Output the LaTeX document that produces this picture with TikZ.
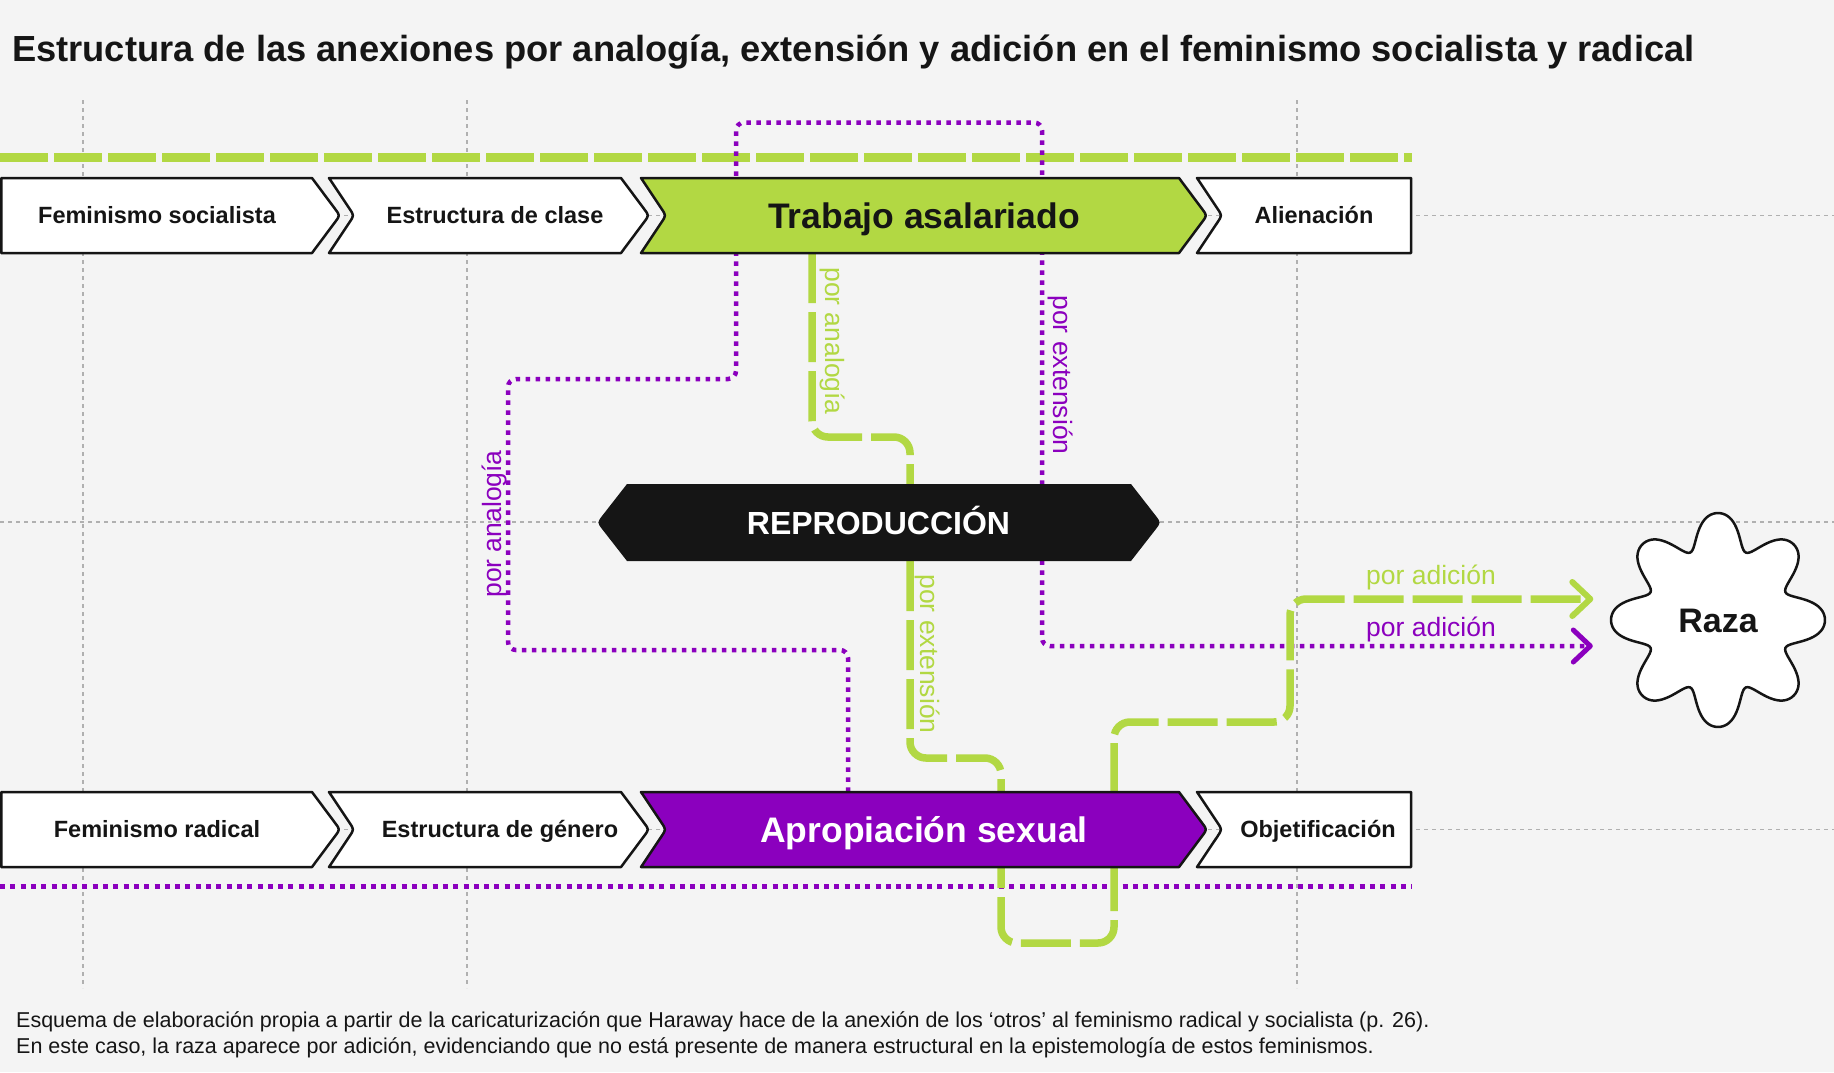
\documentclass[tikz,border=0pt]{standalone}
\usepackage{fontspec}
\setmainfont{Liberation Sans}
\usetikzlibrary{calc}
\definecolor{bgc}{HTML}{F4F4F4}
\definecolor{myg}{HTML}{B2D843}
\definecolor{myp}{HTML}{8B00BE}
\definecolor{ink}{HTML}{151515}
\definecolor{gridc}{HTML}{B0B0B0}
\newcommand{\mychevmid}[4]{\draw[#4] (#1,{#3-37.5}) -- (#2,{#3-37.5}) -- ({#2+23.2},{#3-6.4}) .. controls ({#2+28},#3) .. ({#2+23.2},{#3+6.4}) -- (#2,{#3+37.5}) -- (#1,{#3+37.5}) -- ({#1+20.6},{#3+6.7}) .. controls ({#1+25},#3) .. ({#1+20.6},{#3-6.7}) -- cycle;}
\newcommand{\mychevfirst}[3]{\draw[#3] (1.25,{#2-37.5}) -- (#1,{#2-37.5}) -- ({#1+23.2},{#2-6.4}) .. controls ({#1+28},#2) .. ({#1+23.2},{#2+6.4}) -- (#1,{#2+37.5}) -- (1.25,{#2+37.5}) -- cycle;}
\newcommand{\mychevlast}[3]{\draw[#3] (#1,{#2-37.5}) -- (1411,{#2-37.5}) -- (1411,{#2+37.5}) -- (#1,{#2+37.5}) -- ({#1+20.6},{#2+6.7}) .. controls ({#1+25},#2) .. ({#1+20.6},{#2-6.7}) -- cycle;}
\begin{document}
\begin{tikzpicture}[x=1pt,y=-1pt,
  gridline/.style={draw=gridc, line width=1.5pt, dash pattern=on 4pt off 4pt},
  pdot/.style={draw=myp, line width=4.5pt, dash pattern=on 4.5pt off 5.5pt},
  gdash/.style={draw=myg, line width=7.5pt, dash pattern=on 50pt off 9pt},
  boxw/.style={draw=ink, line width=2.5pt, fill=white, line join=round},
  boxg/.style={draw=ink, line width=2.5pt, fill=myg, line join=round},
  boxp/.style={draw=ink, line width=2.5pt, fill=myp, line join=round},
  anchorbox/.style={inner sep=0pt, minimum height=75pt, draw=none},
  lab/.style={font=\fontsize{23.5}{28}\selectfont\bfseries, text=ink, anchor=base, inner sep=0pt},
  big/.style={font=\fontsize{35.5}{40}\selectfont\bfseries, anchor=base, inner sep=0pt},
  glab/.style={font=\fontsize{26.5}{30}\selectfont, text=myg, inner sep=0pt},
  plab/.style={font=\fontsize{26.5}{30}\selectfont, text=myp, inner sep=0pt},
  gtip/.style={draw=myg, line width=6pt, line cap=round, line join=round},
  ptip/.style={draw=myp, line width=5pt, line cap=round, line join=round}]
\fill[bgc] (0,0) rectangle (1834,1072);
\useasboundingbox (0,0) rectangle (1834,1072);

% grid
\foreach \xx in {83,467,1297} \draw[gridline] (\xx,100) -- (\xx,988);
\foreach \yy in {215.5,522,829.5} \draw[gridline] (0,\yy) -- (1834,\yy);

% anchor boxes
\node[anchorbox, minimum width=312pt] (bFsoc) at (156,215.5) {};
\node[anchorbox, minimum width=292pt] (bClase) at (487,215.5) {};
\node[anchorbox, minimum width=538pt] (bTrab) at (910,215.5) {};
\node[anchorbox, minimum width=214pt] (bAlien) at (1304,215.5) {};
\node[anchorbox, minimum width=312pt] (bFrad) at (156,829.5) {};
\node[anchorbox, minimum width=292pt] (bGen) at (487,829.5) {};
\node[anchorbox, minimum width=538pt] (bAprop) at (910,829.5) {};
\node[anchorbox, minimum width=214pt] (bObj) at (1304,829.5) {};
\node[inner sep=0pt, minimum width=565pt, minimum height=77pt] (bRepro) at (878.5,522.5) {};
\node[circle, inner sep=0pt, minimum size=217pt] (raza) at (1718,620) {};

% long lines
\draw[draw=myg, line width=9pt, dash pattern=on 48pt off 6pt] (0,157.5) -- (1412,157.5);
\draw[pdot, line width=5pt, dash pattern=on 5pt off 5.3pt] (0,886) -- (1412,886);

% connectors
\coordinate (arrP) at ($(raza.west)+(-19,26)$);
\coordinate (arrG) at ($(raza.west)+(-19,-21)$);
\draw[pdot, rounded corners=8pt] (848,0 |- bAprop.north) -- (848,650) -- (508,650) -- (508,379) -- (736,379) -- (736,122.5) -- (1042,122.5) -- (1042,646) -- (arrP);
\draw[gdash, rounded corners=16pt] (812,0 |- bTrab.south) -- (812,437) -- (910,437) -- (910,0 |- bRepro.north);
\draw[gdash, rounded corners=16pt] (910,0 |- bRepro.south) -- (910,758) -- (1001,758) -- (1001,943) -- (1114,943) -- (1114,722) -- (1290,722) -- (1290,599) -- (arrG);
\draw[gtip] ($(arrG)+(-18,-17)$) -- (arrG) -- ($(arrG)+(-18,17)$);
\draw[ptip] ($(arrP)+(-17,-16)$) -- (arrP) -- ($(arrP)+(-17,16)$);

% boxes
\mychevfirst{312}{215.5}{boxw}
\mychevmid{329}{621}{215.5}{boxw}
\mychevmid{641}{1179}{215.5}{boxg}
\mychevlast{1197}{215.5}{boxw}
\mychevfirst{312}{829.5}{boxw}
\mychevmid{329}{621}{829.5}{boxw}
\mychevmid{641}{1179}{829.5}{boxp}
\mychevlast{1197}{829.5}{boxw}

\fill[ink] (627,484) -- (1131,484) -- (1155.5,515.4) .. controls (1161,522.5) .. (1155.5,529.6) -- (1131,561) -- (627,561) -- (602.5,529.6) .. controls (597,522.5) .. (602.5,515.4) -- cycle;

\draw[ink, line width=2.5pt, fill=white] plot[domain=0:360, samples=289] ({1718+(92+17*(cos(8*\x)-0.12*cos(16*\x)))*cos(\x)},{620+(92+17*(cos(8*\x)-0.12*cos(16*\x)))*sin(\x)}) -- cycle;

% texts
\node[lab] (tFsoc) at (157,223.9) {Feminismo socialista};
\node[lab] (tClase) at (495,223.9) {Estructura de clase};
\node[big, text=ink] (tTrab) at (924,228.2) {Trabajo asalariado};
\node[lab] (tAlien) at (1314,223.9) {Alienación};
\node[lab] (tFrad) at (157,837.9) {Feminismo radical};
\node[lab] (tGen) at (500,837.9) {Estructura de género};
\node[big, text=white] (tAprop) at (924,842.2) {Apropiación sexual};
\node[lab] (tObj) at (1318,837.9) {Objetificación};
\node[font=\fontsize{32}{38}\selectfont\bfseries, text=white, anchor=base, inner sep=0pt] (tRepro) at (878.5,534) {REPRODUCCIÓN};
\node[font=\fontsize{34}{40}\selectfont\bfseries, text=ink, anchor=base, inner sep=0pt] (tRaza) at (1718,632) {Raza};

\node[glab, rotate=-90] (l1) at (832,341) {por analogía};
\node[plab, rotate=-90] (l2) at (1060,375) {por extensión};
\node[plab, rotate=90] (l3) at (494,524) {por analogía};
\node[glab, rotate=-90] (l4) at (927,654) {por extensión};
\node[glab] (l5) at (1431,577) {por adición};
\node[plab] (l6) at (1431,629) {por adición};

\node[anchor=base west, font=\fontsize{36.3}{42}\selectfont\bfseries, text=ink, inner sep=0pt] (title) at (12,61) {Estructura de las anexiones por analogía, extensión y adición en el feminismo socialista y radical};
\node[anchor=base west, font=\fontsize{21.5}{26}\selectfont, text=ink, inner sep=0pt] (foot1) at (16,1027) {Esquema de elaboración propia a partir de la caricaturización que Haraway hace de la anexión de los ‘otros’ al feminismo radical y socialista (p. 26).};
\node[anchor=base west, font=\fontsize{21.5}{26}\selectfont, text=ink, inner sep=0pt] (foot2) at (16,1053) {En este caso, la raza aparece por adición, evidenciando que no está presente de manera estructural en la epistemología de estos feminismos.};
\end{tikzpicture}
\end{document}
